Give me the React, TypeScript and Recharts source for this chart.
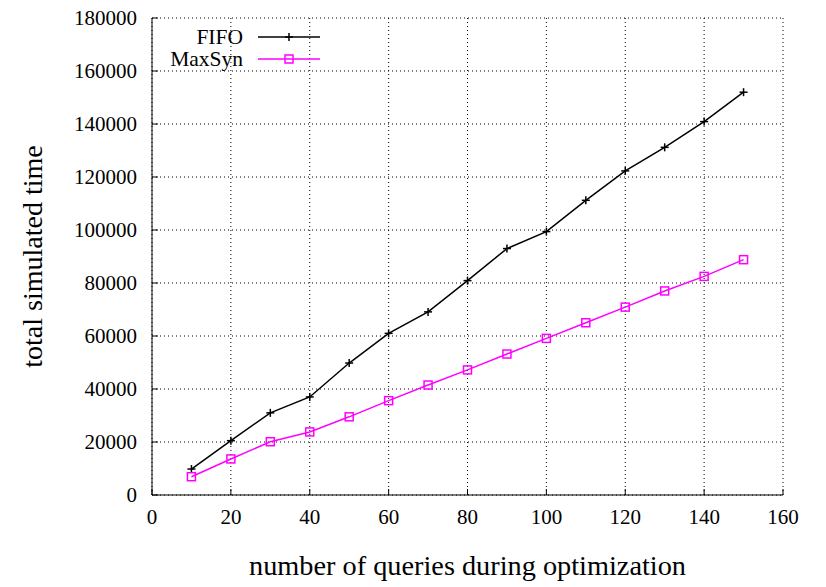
import React from 'react';
import { LineChart, Line, XAxis, YAxis, CartesianGrid, Legend } from 'recharts';

const queries = [10, 20, 30, 40, 50, 60, 70, 80, 90, 100, 110, 120, 130, 140, 150];
const fifo = [9800, 20500, 31000, 37000, 49800, 61000, 69100, 80900, 93000, 99400, 111200, 122300, 131200, 140900, 152000];
const maxSyn = [6900, 13600, 20100, 23800, 29500, 35600, 41500, 47200, 53200, 59100, 65000, 70900, 77000, 82500, 88800];
const xTicks = [0, 20, 40, 60, 80, 100, 120, 140, 160];
const yTicks = [0, 20000, 40000, 60000, 80000, 100000, 120000, 140000, 160000, 180000];

const data = queries.map((q, i) => ({ x: q, fifo: fifo[i], maxSyn: maxSyn[i] }));

const FONT = '"Liberation Serif", "Times New Roman", serif';

const PlusDot = (props: any) => {
  const { cx, cy, stroke } = props;
  if (cx == null || cy == null) return null;
  return (
    <g>
      <line x1={cx - 4} y1={cy} x2={cx + 4} y2={cy} stroke={stroke} strokeWidth={1.5} />
      <line x1={cx} y1={cy - 4} x2={cx} y2={cy + 4} stroke={stroke} strokeWidth={1.5} />
    </g>
  );
};

const SquareDot = (props: any) => {
  const { cx, cy, stroke } = props;
  if (cx == null || cy == null) return null;
  return <rect x={cx - 4} y={cy - 4} width={8} height={8} fill="none" stroke={stroke} strokeWidth={1.5} />;
};

const XTick = (props: any) => {
  const { x, y, payload } = props;
  return (
    <text x={x} y={y} dy="0.71em" textAnchor="middle" fontSize={21} fontFamily={FONT} fill="#000" style={{ fontFamily: FONT }}>
      {payload.value}
    </text>
  );
};

const YTick = (props: any) => {
  const { x, y, payload } = props;
  return (
    <text x={x} y={y} dy="0.355em" textAnchor="end" fontSize={21} fontFamily={FONT} fill="#000" style={{ fontFamily: FONT }}>
      {payload.value}
    </text>
  );
};

const LegendContent = (props: any) => {
  const payload = props.payload || [];
  return (
    <svg width={200} height={60} style={{ display: 'block' }}>
      {payload.map((p: any, i: number) => {
        const y = 19 + i * 22;
        return (
          <g key={i}>
            <text x={91} y={y + 7} textAnchor="end" fontSize={21.5} fontFamily={FONT} fill="#000">
              {p.value}
            </text>
            <line x1={106} y1={y} x2={168} y2={y} stroke={p.color} strokeWidth={1.5} />
            {i === 0 ? (
              <PlusDot cx={137} cy={y} stroke={p.color} />
            ) : (
              <SquareDot cx={137} cy={y} stroke={p.color} />
            )}
          </g>
        );
      })}
    </svg>
  );
};

export default function App() {
  return (
    <div style={{ position: 'absolute', left: 0, top: 0, width: 826, height: 587, background: '#fff', fontFamily: FONT }}>
      <LineChart
        width={826}
        height={587}
        data={data}
        margin={{ top: 18, right: 43, bottom: 0, left: 0 }}
        style={{ fontFamily: FONT }}
      >
        <CartesianGrid stroke="#000" strokeWidth={1} strokeDasharray="1 3" />
        <XAxis
          dataKey="x"
          type="number"
          domain={[0, 160]}
          ticks={xTicks}
          allowDataOverflow
          height={92}
          tickSize={-6}
          tickMargin={20}
          stroke="#000"
          tick={<XTick />}
          label={{ value: 'number of queries during optimization', position: 'insideBottom', offset: 12, fill: '#000', fontSize: 28.3, fontFamily: FONT }}
        />
        <XAxis
          xAxisId="top"
          orientation="top"
          dataKey="x"
          type="number"
          domain={[0, 160]}
          ticks={xTicks}
          allowDataOverflow
          height={0}
          tickSize={-6}
          tick={false}
          stroke="#000"
        />
        <YAxis
          type="number"
          domain={[0, 180000]}
          ticks={yTicks}
          allowDataOverflow
          width={152}
          tickSize={-6}
          tickMargin={21}
          stroke="#000"
          tick={<YTick />}
          label={{ value: 'total simulated time', angle: -90, position: 'insideLeft', offset: 32, fill: '#000', fontSize: 28, fontFamily: FONT, style: { textAnchor: 'middle' } }}
        />
        <YAxis
          yAxisId="right"
          orientation="right"
          type="number"
          domain={[0, 180000]}
          ticks={yTicks}
          allowDataOverflow
          width={0}
          tickSize={-6}
          tick={false}
          stroke="#000"
        />
        <Legend
          layout="vertical"
          align="center"
          verticalAlign="middle"
          wrapperStyle={{ left: 152, top: 18, width: 200, height: 60 }}
          content={<LegendContent />}
        />
        <Line
          name="FIFO"
          dataKey="fifo"
          stroke="#000"
          strokeWidth={1.5}
          dot={<PlusDot />}
          activeDot={false}
          isAnimationActive={false}
        />
        <Line
          name="MaxSyn"
          dataKey="maxSyn"
          stroke="#ff00ff"
          strokeWidth={1.5}
          dot={<SquareDot />}
          activeDot={false}
          isAnimationActive={false}
        />
      </LineChart>
    </div>
  );
}
